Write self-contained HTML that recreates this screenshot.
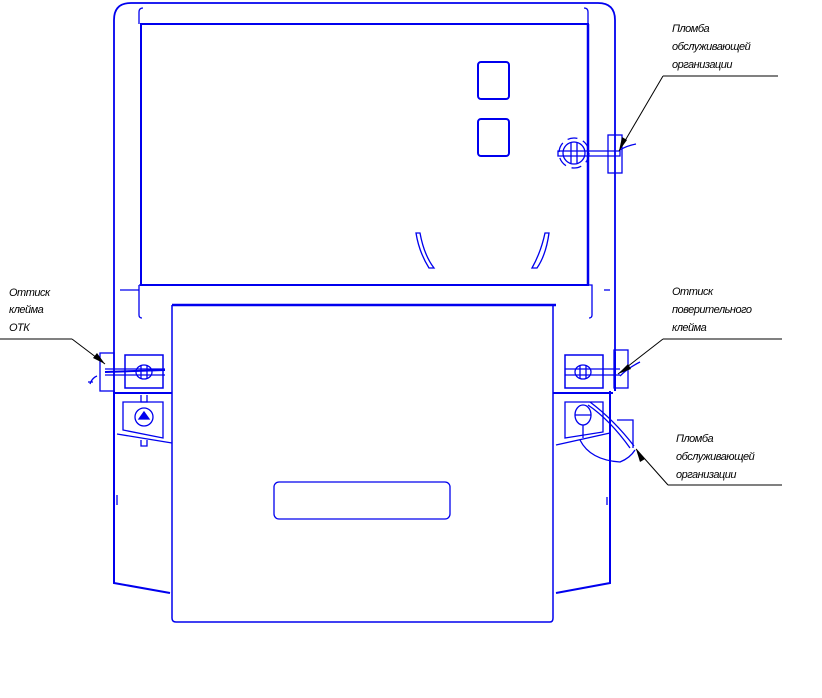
<!DOCTYPE html>
<html><head><meta charset="utf-8"><style>
html,body{margin:0;padding:0;background:#fff;width:822px;height:698px;overflow:hidden}
svg{display:block}
text{font-family:"Liberation Sans",sans-serif;font-style:italic;font-size:11px;fill:#000;letter-spacing:-0.5px}
</style></head><body>
<svg width="822" height="698" viewBox="0 0 822 698" xmlns="http://www.w3.org/2000/svg">
<g fill="none" stroke="#0000ee" stroke-width="1.3">
<path d="M114,396 V20 Q114,3 131,3 H598 Q615,3 615,20 V352" stroke-width="1.8"/>
<path d="M139,24 V12 Q139,8 143,8 M588,24 V12 Q588,8 584,8"/>
<rect x="141" y="24" width="447" height="261" stroke-width="2"/>
<path d="M588,24 V285" stroke-width="2.5"/>
<path d="M139,285 H592 V315 Q592,318 589,318 M139,285 V315 Q139,318 142,318"/>
<line x1="120" y1="290" x2="139" y2="290"/>
<line x1="604" y1="290" x2="610" y2="290"/>
<rect x="478" y="62" width="31" height="37" rx="3" stroke-width="2"/>
<rect x="478" y="119" width="31" height="37" rx="3" stroke-width="2"/>
<path d="M416,233 L420,233 Q424,255 434,268 L429,268 Q419,252 416,233Z"/>
<path d="M545,233 L549,233 Q546,255 537,268 L532,268 Q541,252 545,233Z"/>
<path d="M172,305 V618 Q172,622 176,622 H550 Q553,622 553,618 V305" stroke-width="1.5"/>
<path d="M172,305 H556" stroke-width="2.5"/>
<rect x="274" y="482" width="176" height="37" rx="5"/>
<path d="M114,391 V583 L170,593" stroke-width="2"/>
<path d="M117,495 V505 M607,497 V505"/>
<line x1="114" y1="393" x2="172" y2="393" stroke-width="2"/>
<rect x="100" y="353" width="14" height="38"/>
<rect x="125" y="355" width="38" height="33" stroke-width="1.5"/>
<line x1="105" y1="372" x2="165" y2="370" stroke-width="2"/>
<path d="M105,369 H165 M105,375 H165"/>
<ellipse cx="144" cy="372" rx="8" ry="7"/>
<path d="M141,365 V379 M147,365 V379"/>
<path d="M97,376 Q92,378 90,384 M93,382 H88"/>
<path d="M123,402 H163 V438 L123,430 Z"/>
<circle cx="144" cy="417" r="9"/>
<path d="M139,419 L144,412 L149,419 Z" fill="#0000ee"/>
<path d="M141,395 V402 H147 V395 M141,440 V446 H147 V440"/>
<path d="M117,434 L172,443"/>
<path d="M610,391 V583 L556,593 M615,352 V391" stroke-width="2"/>
<line x1="553" y1="393" x2="613" y2="393" stroke-width="2"/>
<rect x="614" y="350" width="14" height="38"/>
<rect x="565" y="355" width="38" height="33" stroke-width="1.5"/>
<path d="M565,369 H620 M565,375 H620"/>
<ellipse cx="583" cy="372" rx="8" ry="7"/>
<path d="M580,365 V379 M586,365 V379"/>
<path d="M620,376 Q628,368 640,362"/>
<path d="M565,402 H603 V432 L565,438 Z"/>
<ellipse cx="583" cy="415" rx="8" ry="10"/>
<path d="M583,425 V438 M575,415 H591"/>
<path d="M588,405 Q610,420 630,448 M590,402 Q614,420 634,446"/>
<path d="M617,420 H633 V448"/>
<path d="M580,440 Q590,460 620,462 Q630,458 635,450"/>
<path d="M556,445 L610,433"/>
<circle cx="574" cy="153" r="11"/>
<circle cx="574" cy="153" r="15" stroke-dasharray="10 6"/>
<path d="M571,143 V163 M577,143 V163"/>
<path d="M558,151 H620 V156 H558Z"/>
<rect x="608" y="135" width="14" height="38"/>
<path d="M620,150 Q626,146 636,144"/>
</g>
<g stroke="#000" stroke-width="1" fill="none">
<line x1="0" y1="339" x2="72" y2="339"/><line x1="72" y1="339" x2="105" y2="364"/>
<line x1="663" y1="76" x2="778" y2="76"/><line x1="663" y1="76" x2="619" y2="151"/>
<line x1="663" y1="339" x2="782" y2="339"/><line x1="663" y1="339" x2="618" y2="374"/>
<line x1="668" y1="485" x2="782" y2="485"/><line x1="668" y1="485" x2="636" y2="449"/>
</g>
<g fill="#000">
<path d="M105,364 L93,358 L97,353Z"/>
<path d="M619,151 L622,137 L627,140Z"/>
<path d="M618,374 L628,364 L631,369Z"/>
<path d="M636,449 L645,459 L640,462Z"/>
</g>
<text x="9" y="296">Оттиск</text>
<text x="9" y="313">клейма</text>
<text x="9" y="331">ОТК</text>
<text x="672" y="32">Пломба</text>
<text x="672" y="50">обслуживающей</text>
<text x="672" y="68">организации</text>
<text x="672" y="295">Оттиск</text>
<text x="672" y="313">поверительного</text>
<text x="672" y="331">клейма</text>
<text x="676" y="442">Пломба</text>
<text x="676" y="460">обслуживающей</text>
<text x="676" y="478">организации</text>
</svg>
</body></html>
